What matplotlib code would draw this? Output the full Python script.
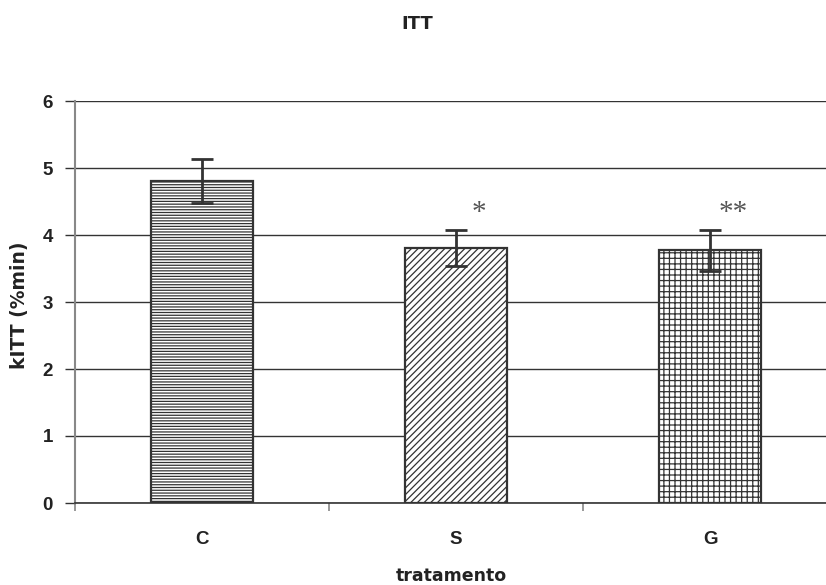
import numpy as np
import matplotlib.pyplot as plt

# data
groups = ["C", "S", "G"]
kitt = [4.81, 3.80, 3.77]
kitt_err = [0.33, 0.27, 0.30]
marks = ["", "*", "**"]
hatches = ["------", "/////", "+++"]

plt.rcParams['font.family'] = ['Liberation Sans', 'DejaVu Sans']
plt.rcParams['hatch.linewidth'] = 0.9

fig = plt.figure(figsize=(8.26, 5.85), dpi=100)
ax = fig.add_axes([75 / 826, 82 / 585, 762 / 826, 402 / 585])

x = np.arange(len(groups))
for i in range(len(groups)):
    ax.bar(x[i], kitt[i], width=0.405, color='white', edgecolor='#333333',
           hatch=hatches[i], linewidth=1.6, zorder=2)
ax.errorbar(x, kitt, yerr=kitt_err, fmt='none', ecolor='#333333',
            elinewidth=2, capsize=8, capthick=2, zorder=3)

for i in range(len(groups)):
    if marks[i]:
        ax.text(x[i] + 0.09, kitt[i] + kitt_err[i] + 0.07, marks[i],
                ha='center', va='bottom', fontsize=21, color='#555555',
                family='Liberation Serif')

ax.set_xlim(-0.5, 2.5)
ax.set_ylim(0, 6)
ax.set_yticks(range(0, 7))
ax.yaxis.grid(True, color='#333333', linewidth=1.0)
ax.set_axisbelow(True)

ax.set_xticks(x, groups)
ax.set_xticks([-0.5, 0.5, 1.5, 2.5], minor=True)
ax.tick_params(axis='x', which='major', length=0, pad=20, labelsize=13.5)
ax.tick_params(axis='x', which='minor', length=6, width=1.2, color='#888888', direction='out')
ax.tick_params(axis='y', length=7, width=1.0, color='#333333', pad=9, labelsize=13.5)
for lab in ax.get_xticklabels() + ax.get_yticklabels():
    lab.set_fontweight('bold')
    lab.set_color('#222222')

for s in ['top', 'right']:
    ax.spines[s].set_visible(False)
ax.spines['left'].set_color('#888888')
ax.spines['left'].set_linewidth(1.5)
ax.spines['bottom'].set_color('#333333')
ax.spines['bottom'].set_linewidth(1.2)

fig.text(20 / 826, 1 - 305 / 585, "kITT (%min)", rotation=90, ha='center', va='center',
         fontsize=13.5, fontweight='bold', color='#222222', family='DejaVu Sans')
fig.text(451 / 826, 1 - 576 / 585, "tratamento", ha='center', va='center',
         fontsize=12.5, fontweight='bold', color='#222222', family='DejaVu Sans')
fig.text(417 / 826, 1 - 24 / 585, "ITT", ha='center', va='center',
         fontsize=13, fontweight='bold', color='#222222', family='DejaVu Sans')

fig.savefig('out.png', dpi=100)
